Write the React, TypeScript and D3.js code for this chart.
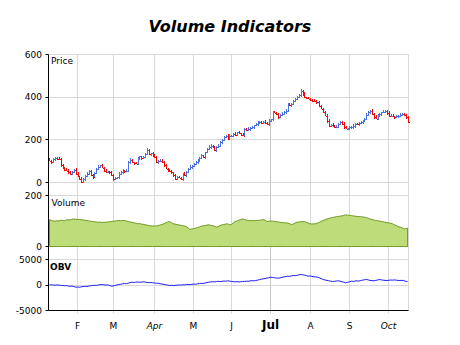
import React from "react";
import * as d3 from "d3";

// Daily closing prices (one per trading day)
const closes = [
  103, 95, 108, 116, 112, 111, 80, 72, 60, 56, 48, 41, 50, 59, 41, 30,
  17, 2, 17, 30, 41, 53, 33, 25, 45, 64, 72, 80, 70, 56, 48, 50,
  48, 33, 17, 20, 25, 41, 48, 56, 52, 56, 95, 106, 95, 90, 88, 111,
  122, 115, 119, 134, 153, 134, 137, 125, 119, 95, 100, 103, 95, 80, 64, 56,
  52, 48, 33, 17, 25, 22, 17, 41, 33, 50, 64, 72, 78, 88, 95, 106,
  115, 127, 119, 142, 155, 166, 173, 166, 153, 165, 173, 189, 200, 212, 220, 205,
  220, 220, 228, 225, 236, 230, 225, 220, 252, 245, 252, 256, 259, 268, 275, 280,
  283, 278, 283, 280, 275, 290, 298, 330, 328, 322, 306, 315, 322, 330, 337, 369,
  362, 369, 380, 392, 400, 408, 431, 416, 400, 396, 392, 388, 384, 380, 376, 376,
  360, 345, 330, 314, 290, 267, 270, 267, 262, 262, 275, 283, 276, 262, 253, 253,
  258, 259, 265, 275, 272, 278, 283, 290, 300, 318, 330, 337, 320, 308, 300, 314,
  320, 330, 332, 337, 325, 314, 314, 310, 306, 310, 314, 318, 322, 315, 306, 283,
];
const firstOpen = 108;
// how far the high sits above the bar body / the low below it
const upWick = [
  6, 4, 8, 3, 5, 9, 4, 7, 2, 6, 5, 8, 3, 4, 7, 6,
  2, 9, 5, 3, 8, 4, 6, 7, 3, 5, 9, 2, 6, 4, 8, 5,
  3, 7, 6, 4, 2, 8, 5, 6, 3, 9, 4, 7, 5, 2, 6, 8,
  4, 3, 7, 5, 9, 6, 2, 4, 8, 3, 6, 5, 7, 4, 9, 2,
  5, 8, 3, 6, 4, 7, 5, 3, 8, 6, 2, 9, 4, 5, 7, 3,
  6, 8, 4, 2, 5, 9, 6, 3, 7, 4, 8, 5, 2, 6, 3, 9,
  7, 4, 5, 8, 2, 6, 4, 7, 3, 5, 9, 6, 8, 2, 4, 7,
  5, 3, 6, 9, 4, 8, 2, 5, 7, 3, 6, 4, 9, 5, 8, 2,
  6, 3, 7, 4, 5, 9, 6, 2, 8, 3, 7, 4, 5, 6, 9, 2,
  8, 4, 3, 7, 5, 6, 2, 9, 4, 8, 3, 5, 7, 6, 4, 2,
  9, 5, 8, 3, 6, 7, 4, 5, 2, 8, 6, 3, 9, 4, 7, 5,
  6, 2, 8, 3, 4, 9, 5, 7, 3, 6, 4, 8, 2, 5, 7, 4,
];
const downWick = [
  4, 7, 3, 6, 8, 2, 5, 9, 4, 3, 7, 5, 6, 2, 8, 4,
  7, 3, 5, 8, 2, 6, 4, 9, 5, 3, 7, 6, 2, 8, 4, 5,
  6, 3, 8, 5, 4, 7, 2, 9, 6, 4, 3, 8, 5, 7, 2, 6,
  5, 8, 3, 6, 2, 7, 9, 4, 5, 3, 8, 6, 4, 7, 2, 5,
  3, 6, 9, 4, 7, 2, 5, 8, 3, 6, 4, 7, 9, 2, 5, 6,
  8, 4, 3, 7, 6, 2, 9, 5, 4, 8, 3, 6, 7, 5, 2, 4,
  6, 9, 2, 5, 7, 3, 8, 4, 6, 2, 5, 9, 3, 7, 4, 8,
  2, 6, 4, 7, 5, 9, 3, 8, 2, 6, 7, 4, 5, 3, 9, 6,
  4, 8, 5, 2, 6, 3, 7, 9, 5, 4, 2, 8, 6, 3, 7, 5,
  7, 2, 6, 4, 9, 5, 3, 8, 6, 2, 7, 4, 5, 9, 3, 6,
  3, 5, 7, 9, 2, 6, 4, 8, 5, 3, 6, 7, 2, 8, 4, 9,
  5, 7, 4, 2, 8, 6, 3, 5, 9, 4, 7, 2, 6, 3, 8, 5,
];
const volumes = [
  105, 103, 100, 99, 101, 100, 103, 102, 101, 104, 105, 104, 107, 108, 107, 106,
  106, 105, 104, 103, 102, 100, 99, 98, 97, 96, 95, 96, 94, 95, 95, 96,
  97, 98, 99, 100, 101, 102, 101, 102, 102, 100, 98, 96, 95, 93, 91, 89,
  90, 88, 87, 85, 84, 82, 81, 80, 81, 80, 82, 84, 86, 89, 93, 96,
  98, 94, 89, 88, 86, 85, 83, 82, 80, 78, 72, 67, 69, 70, 72, 74,
  77, 80, 81, 82, 84, 85, 83, 81, 80, 76, 78, 82, 85, 86, 88, 89,
  85, 86, 92, 98, 100, 103, 106, 108, 106, 104, 102, 101, 102, 101, 102, 102,
  103, 104, 106, 103, 98, 99, 100, 99, 99, 97, 96, 95, 94, 93, 93, 92,
  90, 86, 88, 92, 95, 96, 97, 98, 98, 95, 92, 89, 88, 89, 89, 92,
  95, 99, 102, 105, 108, 110, 112, 114, 115, 117, 118, 119, 120, 122, 124, 123,
  122, 121, 120, 119, 118, 117, 117, 116, 115, 113, 111, 108, 106, 104, 102, 101,
  100, 98, 97, 95, 94, 92, 91, 89, 85, 82, 78, 76, 74, 69, 70, 72,
];
const obv = [
  0, 50, 0, -50, 20, -30, -80, -100, -150, -120, -200, -250, -220, -300, -430, -380,
  -450, -350, -300, -250, -280, -200, -150, -100, -50, -80, 0, 50, 100, 30, -20, 30,
  -100, -230, -180, -100, 0, 100, 150, 230, 300, 250, 350, 450, 560, 500, 550, 600,
  530, 560, 620, 580, 500, 450, 480, 430, 400, 330, 350, 230, 200, 130, 50, 0,
  -100, -50, -120, -80, -30, 0, -20, 50, 30, 80, 100, 60, 130, 180, 150, 230,
  280, 330, 300, 400, 480, 560, 600, 650, 600, 690, 720, 650, 720, 780, 750, 820,
  760, 700, 650, 620, 660, 600, 650, 700, 690, 750, 720, 800, 850, 820, 880, 950,
  1050, 1150, 1200, 1280, 1350, 1420, 1530, 1480, 1420, 1380, 1330, 1400, 1500, 1580, 1650, 1720,
  1680, 1780, 1860, 1820, 1900, 1980, 2060, 2000, 1950, 1850, 1720, 1780, 1700, 1620, 1580, 1530,
  1400, 1250, 1080, 980, 900, 820, 750, 690, 720, 780, 820, 750, 650, 550, 430, 520,
  620, 750, 700, 780, 820, 750, 880, 950, 1020, 1080, 1000, 900, 860, 820, 900, 980,
  1080, 1000, 950, 900, 880, 920, 980, 950, 1000, 940, 900, 880, 920, 850, 720, 690,
];
// first trading day of each month (bar index) and its axis label
const monthLabels = ["F", "M", "Apr", "M", "J", "Jul", "A", "S", "Oct"];
const monthIndex = [15, 34, 56, 77, 97, 118, 139, 160, 181];
const monthKind = ["m", "m", "q", "m", "m", "h", "m", "m", "q"];
const priceTicks = [0, 200, 400, 600];
const volumeTicks = [0, 200];
const obvTicks = [-5000, 0, 5000];

const FONT = "'DejaVu Sans', Verdana, sans-serif";
const UP = "#4a6fe0";
const DOWN = "#ff0000";
const GRID = "#d9d9d9";

export default function App() {
  const N = closes.length;
  const left = 48.5;
  const right = 408.5;
  const x = d3.scaleLinear().domain([-0.5, N - 0.5]).range([left, right]);
  const yP = d3.scaleLinear().domain([0, 600]).range([182.5, 54.5]);
  const yV = d3.scaleLinear().domain([0, 200]).range([246.5, 195.5]);
  const yO = d3.scaleLinear().domain([-5000, 5000]).range([310.5, 259.5]);

  const top = 54.5;
  const bottom = 310.5;

  const opens = closes.map((c, i) => (i === 0 ? firstOpen : closes[i - 1]));

  const upPath: string[] = [];
  const downPath: string[] = [];
  closes.forEach((c, i) => {
    const o = opens[i];
    const hi = Math.max(o, c) + upWick[i];
    const lo = Math.min(o, c) - downWick[i];
    const cx = Math.round(x(i)) + 0.5;
    const p = `M${cx},${yP(hi)}V${yP(lo)}M${cx - 1},${Math.round(yP(o)) + 0.5}H${cx}M${cx},${Math.round(yP(c)) + 0.5}H${cx + 1}`;
    if (c >= o) upPath.push(p);
    else downPath.push(p);
  });

  const area = d3
    .area<number>()
    .x((_, i) => x(i))
    .y0(yV(0))
    .y1((d) => yV(d));
  const areaD = (area(volumes) || "") + "Z";

  const line = d3
    .line<number>()
    .x((_, i) => x(i))
    .y((d) => yO(d));

  const crisp = (v: number) => Math.round(v - 0.5) + 0.5;

  return (
    <svg
      width={460}
      height={345}
      style={{ position: "absolute", left: 0, top: 0, background: "#fff" }}
      fontFamily={FONT}
    >
      <rect x={0} y={0} width={460} height={345} fill="#fff" />
      <text
        x={230}
        y={31.5}
        textAnchor="middle"
        fontSize={16}
        fontWeight="bold"
        fontStyle="italic"
        fill="#000"
      >
        Volume Indicators
      </text>

      {/* vertical grid lines */}
      {monthIndex.map((m, k) => (
        <line
          key={"vg" + k}
          x1={crisp(x(m))}
          x2={crisp(x(m))}
          y1={top}
          y2={bottom + 3}
          stroke={monthKind[k] === "h" ? "#c4c4c4" : GRID}
          strokeWidth={1}
        />
      ))}
      {/* right border */}
      <line x1={right} x2={right} y1={top} y2={bottom} stroke={GRID} />

      {/* horizontal grids */}
      {priceTicks.map((t) => (
        <line key={"pg" + t} x1={left} x2={right} y1={crisp(yP(t))} y2={crisp(yP(t))} stroke={GRID} />
      ))}
      {volumeTicks.map((t) => (
        <line key={"vgh" + t} x1={left} x2={right} y1={crisp(yV(t))} y2={crisp(yV(t))} stroke={GRID} />
      ))}
      {obvTicks.map((t) => (
        <line key={"og" + t} x1={left} x2={right} y1={crisp(yO(t))} y2={crisp(yO(t))} stroke={GRID} />
      ))}

      {/* price bars */}
      <path d={upPath.join("")} stroke={UP} strokeWidth={1} fill="none" shapeRendering="crispEdges" />
      <path d={downPath.join("")} stroke={DOWN} strokeWidth={1} fill="none" shapeRendering="crispEdges" />

      {/* volume area */}
      <path d={areaD} fill="#bcdd7a" stroke="#6e9a22" strokeWidth={1} strokeLinejoin="round" />

      {/* OBV line */}
      <path d={line(obv) || ""} fill="none" stroke="#1a1aff" strokeWidth={1} />

      {/* axes */}
      <line x1={left} x2={left} y1={top} y2={bottom} stroke="#000" />
      <line x1={left} x2={right} y1={bottom} y2={bottom} stroke="#000" />

      {priceTicks.map((t) => (
        <g key={"pt" + t}>
          <line x1={left - 3} x2={left} y1={crisp(yP(t))} y2={crisp(yP(t))} stroke="#000" />
          <text x={42} y={yP(t)} dy="0.35em" textAnchor="end" fontSize={9} fill="#000">
            {t}
          </text>
        </g>
      ))}
      {volumeTicks.map((t) => (
        <g key={"vt" + t}>
          <line x1={left - 3} x2={left} y1={crisp(yV(t))} y2={crisp(yV(t))} stroke="#000" />
          <text x={42} y={yV(t)} dy="0.35em" textAnchor="end" fontSize={9} fill="#000">
            {t}
          </text>
        </g>
      ))}
      {obvTicks.map((t) => (
        <g key={"ot" + t}>
          <line x1={left - 3} x2={left} y1={crisp(yO(t))} y2={crisp(yO(t))} stroke="#000" />
          <text x={42} y={yO(t)} dy="0.35em" textAnchor="end" fontSize={9} fill="#000">
            {t}
          </text>
        </g>
      ))}

      {/* month labels */}
      {monthIndex.map((m, k) => (
        <text
          key={"ml" + k}
          x={crisp(x(m))}
          y={328.5}
          textAnchor="middle"
          fontSize={monthKind[k] === "h" ? 12 : 9}
          fontWeight={monthKind[k] === "h" ? "bold" : "normal"}
          fontStyle={monthKind[k] === "q" ? "italic" : "normal"}
          fill="#000"
        >
          {monthLabels[k]}
        </text>
      ))}

      {/* panel legends */}
      <text x={51} y={64} fontSize={9} fill="#000">
        Price
      </text>
      <text x={51.5} y={206} fontSize={9} fill="#000">
        Volume
      </text>
      <text x={50} y={270} fontSize={9} fontWeight="bold" fill="#000">
        OBV
      </text>
    </svg>
  );
}
